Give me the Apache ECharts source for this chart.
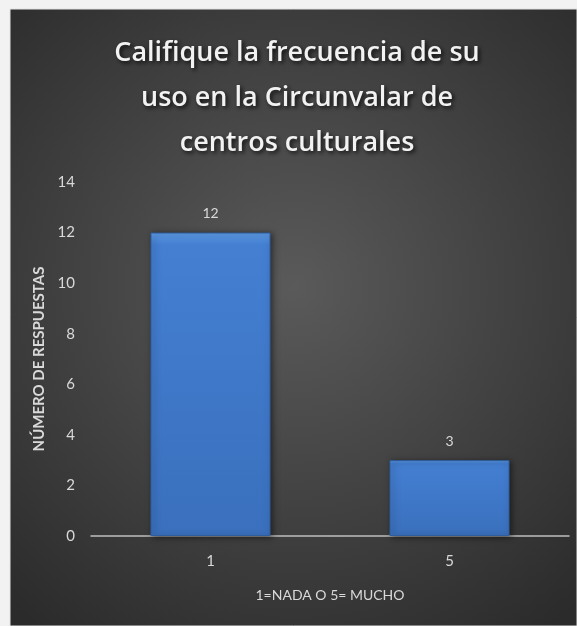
<!DOCTYPE html>
<html>
<head>
<meta charset="utf-8">
<script src="https://cdn.jsdelivr.net/npm/echarts@6/dist/echarts.min.js"></script>
<style>
html, body { margin: 0; padding: 0; background: #f2f2f2; }
#main { width: 577px; height: 626px; }
</style>
</head>
<body>
<div id="main"></div>
<script>
// data
var categories = ['1', '5'];
var respuestas = [12, 3];
var titleLines = ['Califique la frecuencia de su', 'uso en la Circunvalar de', 'centros culturales'];

var chart = echarts.init(document.getElementById('main'));

var barColor = new echarts.graphic.LinearGradient(0, 0, 0, 1, [
	{ offset: 0, color: '#5d9be6' },
	{ offset: 0.04, color: '#447fd2' },
	{ offset: 1, color: '#3a70bd' }
]);

chart.setOption({
	backgroundColor: '#f2f2f2',
	graphic: [{
		type: 'rect',
		z: -10,
		silent: true,
		shape: { x: 10, y: 9, width: 567, height: 617 },
		style: {
			fill: new echarts.graphic.RadialGradient(0.5, 0.45, 0.75, [
				{ offset: 0, color: '#5a5a5a' },
				{ offset: 1, color: '#2b2b2b' }
			]),
			stroke: '#e3e3e3',
			lineWidth: 1
		}
	}],
	title: {
		text: titleLines.join('\n'),
		left: 292,
		top: 26,
		textAlign: 'center',
		textStyle: {
			color: '#f2f2f2',
			fontFamily: 'Open Sans',
			fontSize: 27,
			fontWeight: 600,
			lineHeight: 45,
			textShadowColor: 'rgba(0,0,0,0.8)',
			textShadowBlur: 4,
			textShadowOffsetX: 2,
			textShadowOffsetY: 2
		}
	},
	grid: {
		left: 91,
		right: 8,
		top: 182,
		bottom: 90
	},
	xAxis: {
		type: 'category',
		data: categories,
		name: '1=NADA O 5= MUCHO',
		nameLocation: 'middle',
		nameGap: 52,
		nameTextStyle: {
			color: '#d9d9d9',
			fontFamily: 'Lato',
			fontSize: 14
		},
		axisLine: { lineStyle: { color: '#bfbfbf', width: 1.5 } },
		axisTick: { show: false },
		axisLabel: {
			color: '#d9d9d9',
			fontFamily: 'Lato',
			fontSize: 15,
			margin: 18
		}
	},
	yAxis: {
		type: 'value',
		min: 0,
		max: 14,
		interval: 2,
		name: 'NÚMERO DE RESPUESTAS',
		nameLocation: 'middle',
		nameGap: 30,
		nameTextStyle: {
			color: '#d9d9d9',
			fontFamily: 'Lato',
			fontWeight: 'bold',
			fontSize: 15
		},
		splitLine: { show: false },
		axisLine: { show: false },
		axisTick: { show: false },
		axisLabel: {
			color: '#d9d9d9',
			fontFamily: 'Lato',
			fontSize: 15,
			margin: 16
		}
	},
	series: [{
		name: 'Respuestas',
		type: 'bar',
		data: respuestas,
		barWidth: 120,
		itemStyle: {
			color: barColor,
			borderColor: '#2f5e9f',
			borderWidth: 1,
			shadowColor: 'rgba(0,0,0,0.5)',
			shadowBlur: 6,
			shadowOffsetX: 2,
			shadowOffsetY: 1
		},
		label: {
			show: true,
			position: 'top',
			distance: 12,
			color: '#d9d9d9',
			fontFamily: 'Lato',
			fontSize: 14
		}
	}]
});
</script>
</body>
</html>
